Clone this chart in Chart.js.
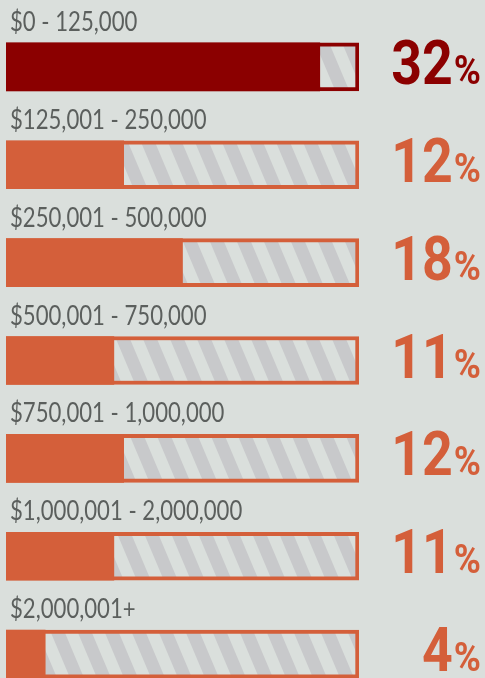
<!DOCTYPE html>
<html>
<head>
<meta charset="utf-8">
<script src="https://cdn.jsdelivr.net/npm/chart.js@4.4.1/dist/chart.umd.min.js"></script>
<style>
    html, body { margin: 0; padding: 0; background: #dadfdc; overflow: hidden; }
    #wrap { position: absolute; left: 0; top: 0; width: 485px; height: 703px; }
</style>
</head>
<body>
<div id="wrap"><canvas id="bars"></canvas></div>
<script>
'use strict';

var categories = ['$0 - 125,000', '$125,001 - 250,000', '$250,001 - 500,000', '$500,001 - 750,000',
    '$750,001 - 1,000,000', '$1,000,001 - 2,000,000', '$2,000,001+'];
var shares = [32, 12, 18, 11, 12, 11, 4];
var barColors = ['#8b0000', '#d45f3a', '#d45f3a', '#d45f3a', '#d45f3a', '#d45f3a', '#d45f3a'];
var scaleMax = 36;

/**
 * Diagonal grey stripes used for the empty part of each bar
 */
function stripePattern(ctx) {
    var tile = document.createElement('canvas');
    tile.width = 27;
    tile.height = 64;
    var t = tile.getContext('2d');
    t.fillStyle = '#dadfdc';
    t.fillRect(0, 0, 27, 64);
    t.fillStyle = '#c8c9cb';
    for (var k = -2; k <= 2; k++) {
        var x0 = k * 27;
        t.beginPath();
        t.moveTo(x0, 0);
        t.lineTo(x0 + 14, 0);
        t.lineTo(x0 + 14 + 27, 64);
        t.lineTo(x0 + 27, 64);
        t.closePath();
        t.fill();
    }
    return ctx.createPattern(tile, 'repeat');
}

// draw text squeezed horizontally, the original uses a condensed face
function narrowText(ctx, text, x, y, squeeze, alignRight) {
    var w = ctx.measureText(text).width * squeeze;
    ctx.save();
    ctx.translate(alignRight ? x - w : x, y);
    ctx.scale(squeeze, 1);
    ctx.textAlign = 'left';
    ctx.fillText(text, 0, 0);
    ctx.restore();
    return w;
}

// category name above each bar, percentage to its right
var labelPlugin = {
    id: 'barLabels',
    afterDatasetsDraw: function (chart) {
        var ctx = chart.ctx;
        var meta = chart.getDatasetMeta(0);
        ctx.save();
        ctx.textBaseline = 'alphabetic';
        meta.data.forEach(function (bar, i) {
            var top = bar.y - bar.height / 2;
            var bottom = bar.y + bar.height / 2;

            ctx.fillStyle = '#5b5f5d';
            ctx.font = '27px Lato, sans-serif';
            narrowText(ctx, categories[i], 10, top - 12, 0.82, false);

            ctx.fillStyle = barColors[i];
            ctx.font = 'bold 40px Roboto, sans-serif';
            var pw = narrowText(ctx, '%', 481, bottom - 7, 0.92, true);
            ctx.font = 'bold 61px Roboto, sans-serif';
            narrowText(ctx, String(shares[i]), 481 - pw - 1, bottom - 7, 0.88, true);
        });
        ctx.restore();
    }
};

var canvas = document.getElementById('bars');
var ctx = canvas.getContext('2d');

new Chart(ctx, {
    type: 'bar',
    data: {
        labels: categories,
        datasets: [{
            // striped track behind the filled part
            data: categories.map(function () { return scaleMax; }),
            backgroundColor: stripePattern(ctx),
            borderColor: barColors,
            borderWidth: 4,
            borderSkipped: false,
            grouped: false,
            order: 2
        }, {
            data: shares,
            backgroundColor: barColors,
            borderWidth: 0,
            grouped: false,
            order: 1
        }]
    },
    options: {
        indexAxis: 'y',
        animation: false,
        responsive: true,
        maintainAspectRatio: false,
        barThickness: 48,
        layout: {
            padding: { left: 6, right: 126, top: 18, bottom: 0 }
        },
        plugins: {
            legend: { display: false },
            tooltip: { enabled: false }
        },
        scales: {
            x: { display: false, min: 0, max: scaleMax },
            y: { display: false, offset: true }
        }
    },
    plugins: [labelPlugin]
});
</script>
</body>
</html>
